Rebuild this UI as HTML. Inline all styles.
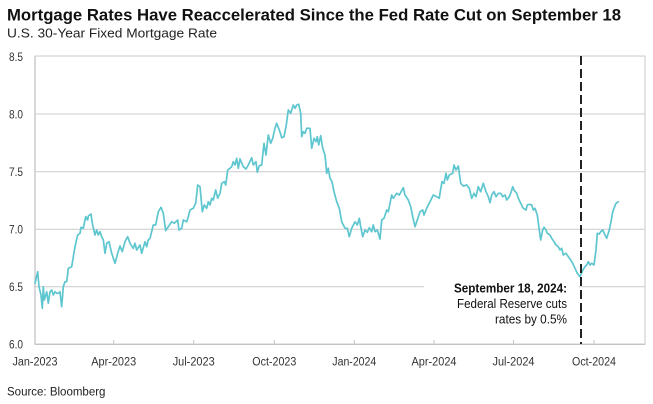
<!DOCTYPE html>
<html>
<head>
<meta charset="utf-8">
<style>
  html,body{margin:0;padding:0;background:#fff;}
  svg{display:block;}
  text{font-family:"Liberation Sans", Arial, sans-serif;}
</style>
</head>
<body>
<svg width="653" height="404" viewBox="0 0 653 404" xmlns="http://www.w3.org/2000/svg">
  <rect x="0" y="0" width="653" height="404" fill="#fff"/>

  <!-- Title -->
  <text x="7" y="20.5" font-size="16.5" font-weight="bold" fill="#111" textLength="614" lengthAdjust="spacingAndGlyphs">Mortgage Rates Have Reaccelerated Since the Fed Rate Cut on September 18</text>
  <text x="7" y="37.5" font-size="13" fill="#222" textLength="210" lengthAdjust="spacingAndGlyphs">U.S. 30-Year Fixed Mortgage Rate</text>

  <!-- Plot frame -->
  <rect x="35" y="56" width="610" height="288.3" fill="none" stroke="#c8c8c8" stroke-width="1"/>
  <!-- gridlines -->
  <g stroke="#cccccc" stroke-width="1">
    <line x1="35" y1="114" x2="645" y2="114"/>
    <line x1="35" y1="171.7" x2="645" y2="171.7"/>
    <line x1="35" y1="229.3" x2="645" y2="229.3"/>
    <line x1="35" y1="286.7" x2="645" y2="286.7"/>
  </g>
  <!-- axis lines -->
  <g stroke="#c4c4c4" stroke-width="1.3">
    <line x1="35" y1="56" x2="35" y2="344.3"/>
    <line x1="35" y1="344.3" x2="645" y2="344.3"/>
  </g>
  <!-- x ticks -->
  <g stroke="#c4c4c4" stroke-width="1">
    <line x1="113.7" y1="340" x2="113.7" y2="344"/>
    <line x1="193.7" y1="340" x2="193.7" y2="344"/>
    <line x1="274.3" y1="340" x2="274.3" y2="344"/>
    <line x1="354.3" y1="340" x2="354.3" y2="344"/>
    <line x1="434" y1="340" x2="434" y2="344"/>
    <line x1="513.5" y1="340" x2="513.5" y2="344"/>
    <line x1="594" y1="340" x2="594" y2="344"/>
  </g>

  <!-- y labels -->
  <g font-size="11.5" fill="#333" text-anchor="end">
    <text x="23" y="61" textLength="14" lengthAdjust="spacingAndGlyphs">8.5</text>
    <text x="23" y="118.5" textLength="14" lengthAdjust="spacingAndGlyphs">8.0</text>
    <text x="23" y="176" textLength="14" lengthAdjust="spacingAndGlyphs">7.5</text>
    <text x="23" y="233.5" textLength="14" lengthAdjust="spacingAndGlyphs">7.0</text>
    <text x="23" y="291" textLength="14" lengthAdjust="spacingAndGlyphs">6.5</text>
    <text x="23" y="348.5" textLength="14" lengthAdjust="spacingAndGlyphs">6.0</text>
  </g>
  <!-- x labels -->
  <g font-size="11.5" fill="#333" text-anchor="middle">
    <text x="35" y="365.5" textLength="45" lengthAdjust="spacingAndGlyphs">Jan-2023</text>
    <text x="113.7" y="365.5" textLength="45" lengthAdjust="spacingAndGlyphs">Apr-2023</text>
    <text x="193.7" y="365.5" textLength="42" lengthAdjust="spacingAndGlyphs">Jul-2023</text>
    <text x="274.3" y="365.5" textLength="44" lengthAdjust="spacingAndGlyphs">Oct-2023</text>
    <text x="354.3" y="365.5" textLength="44" lengthAdjust="spacingAndGlyphs">Jan-2024</text>
    <text x="434" y="365.5" textLength="45" lengthAdjust="spacingAndGlyphs">Apr-2024</text>
    <text x="513.5" y="365.5" textLength="42" lengthAdjust="spacingAndGlyphs">Jul-2024</text>
    <text x="594" y="365.5" textLength="44" lengthAdjust="spacingAndGlyphs">Oct-2024</text>
  </g>

  <!-- data line -->
  <polyline fill="none" stroke="#5ec6cf" stroke-width="1.7" stroke-linejoin="round" stroke-linecap="round" points="
35,283.3 37.7,271.7 39,286.7 41,295 42.3,308.3 43.3,286.7 44.3,300 46.7,291.7 48.3,303.3 50,291.7 51.7,290 53.3,295 55,291.7 56.7,293.3 58.3,293.3 60,291.7 61.7,306.7 63.3,286.7 65,281.7 66.7,281.7 68.3,268.3 71.7,266.7 73.3,256.7 75,246.7 77.7,235 80,233.3 81,227.3 83.3,228.3 85.7,216.7 87.7,220 88.3,216 91,214 92.3,223.3 95,235 96.7,230 98.3,235 100,231.7 101.7,236.7 103.3,240 105,253.3 106.7,243.3 109,241.7 111.7,253.3 115,263.3 117.7,253.3 120,246 122.3,251.7 125,241.7 127.7,236.7 130,243.3 133.3,248.3 135,243.3 136.7,250 140,245 141.7,253.3 145,241.7 146.7,246.7 148.3,240 150,238.3 153.3,225 155.7,225 158.3,211.7 161,207.3 163.3,213.3 165.7,230.7 168.3,226.7 171.7,221.7 174.3,223.3 177.7,220 179,230 181.7,228.3 183.3,220 186.7,221.7 188.3,216.7 190,210 193.3,208.3 195.7,203.3 197.7,185 200,186.7 202.3,211.7 204.3,205 206.7,208.3 208.3,201.7 210,205 211.7,198.3 213.3,200 215.7,190 217.7,198.3 220,193.3 221.7,183.3 224.3,181.7 225.7,185 227.7,170 230,168.3 231.7,166.7 233.3,161.7 235,165 236.7,158.3 238.3,168.3 240,159 243.3,166.7
246,169 248.3,165 251.7,157.7 253.3,165 256,161.7 257.3,172.3 259.3,165.7 261.7,165 264,143.3 266,155 268.3,135 270.7,143.3 272.7,138.3 275,128.3 276.7,123.3 279.3,130 281.7,137.7 284,136.7 286,126.7 288.3,110 290.7,113.3 293.3,105 295,108.3 296.7,105 298.7,104.3 300.7,113.3 301.7,136.7 303.3,131.7 305,133.3 306.7,128.3 310,128.3 311.7,148.3 314,138.3 316,141.7 317.3,136.7 318.7,145 320.7,135.7 322.7,148.3 325,155 326.7,173.3 328.3,168.3 330,178.3 332,181.7 334,191.7 336.7,201.7 339.3,208.3 341.7,221.7 345,228.3 347.3,228.3 349.3,236.7 351.7,228.3 355,221.7 357.3,225 359.3,218.3 360.7,226.7 362.7,236.7 365,230 367.3,232.3 369.3,227.7 371.7,231.7 373.3,225 375,231.7 377.3,230 380,239 381.7,220 384,218.3 386.7,210 388.3,211.7 391.7,195 393.3,198.3 396.7,193.3 399.3,195 403.3,187.7 405,195 408.3,200 410.7,206.7 412.7,216.7 415,226.7 417.3,220 420,211.7 422.7,210 424,215 426.7,208.3 430,201.7 433.3,195 436.7,196.7 439.3,198.3 440,193.3 442,181.7 444,183.3 446,173.3 447.3,180 449.3,175
452.7,173.3 454,165 456,170 458.3,166 460.7,183.3 463.3,186 466.7,185 469.3,188.3 471.7,198.3 474,193.3 476,196.7 478.3,186.7 480.7,191.7 483.3,183.3 486,191.7 488.3,196.7 490,202.7 491.7,195 494,191.7 496,196.7 498.3,193.3 500.7,193.3 502.7,196.7 505,195 506.7,200 509.3,196.7 510.7,193.3 512.7,186.7 514,190 516.7,193.3 518.3,198.3 520.7,203.3 523.3,208.3 526,210 527.3,205 529.3,204.3 531.7,205 533.3,210 535,208.3 537.3,215 539.3,230 540.7,240 542.7,230 544,227.3 546,230 547.3,233.3 550,235 551.7,238.3 554,241.7 556,245 558.3,246.7 560,250 561.7,248.3 563.3,255 566,253.3 568.3,256.7 570.7,260 572.7,263.3 575,268.3 577.3,273.3 580,276.7 581.7,272.7 583.3,269.3 585,266.7 586.7,265 588.3,261.7 590,265 591.7,263.3 594,265 596,250 597.3,233.3 599.3,234 600.7,231.7 602.7,230 605,235 606.7,238.3 609.3,230 611,221.7 612.7,211.7 614,208.3 616,203.3 618.3,201.7"/>

  <!-- annotation background -->
  <rect x="424" y="279" width="155" height="52" fill="#fff"/>

  <!-- dashed line -->
  <line x1="581" y1="56" x2="581" y2="344" stroke="#222" stroke-width="2" stroke-dasharray="9,4"/>

  <!-- annotation text -->
  <g text-anchor="end" fill="#111">
    <text x="567" y="292.5" font-size="12.5" font-weight="bold" textLength="113" lengthAdjust="spacingAndGlyphs">September 18, 2024:</text>
    <text x="567" y="308" font-size="12.5" textLength="110" lengthAdjust="spacingAndGlyphs">Federal Reserve cuts</text>
    <text x="567" y="323.5" font-size="12.5" textLength="72" lengthAdjust="spacingAndGlyphs">rates by 0.5%</text>
  </g>

  <!-- source -->
  <text x="7" y="395.5" font-size="11.5" fill="#222">Source: Bloomberg</text>
</svg>
</body>
</html>
